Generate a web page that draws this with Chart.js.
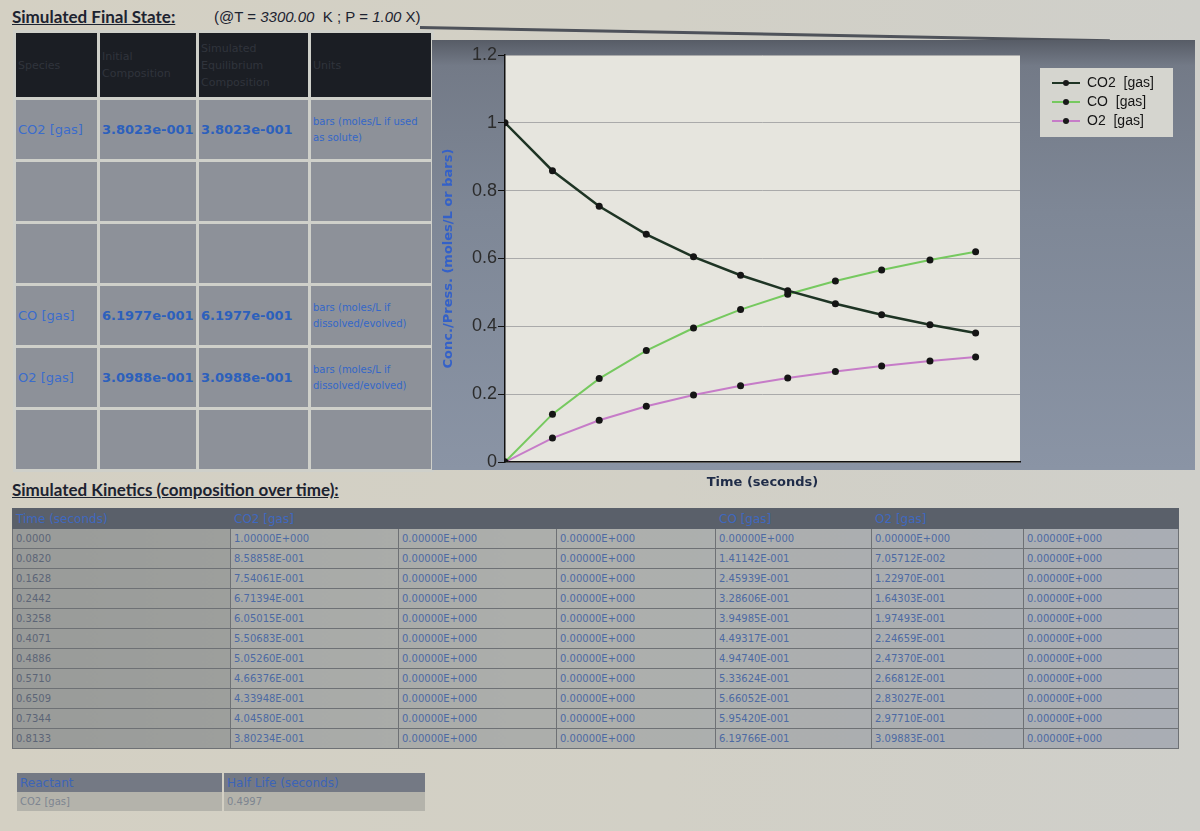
<!DOCTYPE html>
<html>
<head>
<meta charset="utf-8">
<title>Simulated Kinetics</title>
<script src="https://cdn.jsdelivr.net/npm/chart.js@4/dist/chart.umd.min.js"></script>
<style>
  html, body { margin: 0; padding: 0; }
  body {
    width: 1200px; height: 831px; overflow: hidden; position: relative;
    background: linear-gradient(90deg, #d4d0c3 0%, #d2d0c6 55%, #cfcfca 100%);
    font-family: "DejaVu Sans", sans-serif;
  }
  .heading {
    position: absolute; left: 12px; font-family: Lato, sans-serif; font-weight: bold;
    font-size: 17px; color: #1d2330; text-decoration: underline; white-space: nowrap;
  }
  .cond { font-family: "Liberation Sans", sans-serif; font-weight: normal; font-size: 15px; text-decoration: none; color: #1d2330; }
  .cond i { font-style: italic; }
  .rule { position: absolute; left: 420px; top: 26px; width: 690px; height: 3px; background: #4e525a; transform: rotate(1.1deg); transform-origin: left center; }

  /* tabel kondisi akhir */
  #finalTable { position: absolute; left: 13px; top: 30px; border-spacing: 3px; background: #cfd0ca; table-layout: fixed; }
  #finalTable td { background: #8d9199; vertical-align: middle; padding: 0 2px; color: #2f64c4; overflow: hidden; box-sizing: border-box; }
  #finalTable tr.head td { background: #1b1e24; color: #30343c; font-size: 11px; line-height: 17px; }
  #finalTable td.sp { font-size: 13px; color: #3b6ccc; }
  #finalTable td.val { font-size: 13px; font-weight: bold; color: #2c60bc; white-space: nowrap; }
  #finalTable td.unit { font-size: 10px; line-height: 16px; color: #3467c8; white-space: nowrap; }

  #chartBox { position: absolute; left: 432px; top: 40px; width: 763px; height: 430px;
    background: linear-gradient(180deg, #575c66 0%, #737a87 6%, #7e8796 40%, #8a94a5 100%); }
  #chartCanvas { position: absolute; left: 432px; top: 40px; }

  /* tabel kinetika */
  #kinTable { position: absolute; left: 12px; top: 508px; width: 1166px; border-collapse: collapse; table-layout: fixed;
    background: linear-gradient(90deg, #a3a5a3 0%, #adafac 50%, #a9adb4 100%); }
  #kinTable td { height: 19px; border: 1px solid #6e7175; padding: 0 3px; font-size: 10px; color: #4d6aa3; white-space: nowrap; }
  #kinTable tr.head td { background: #5a606a; color: #3f68bf; font-size: 12px; border-color: #5a606a; }
  #kinTable td.t { color: #5c6577; background: rgba(0,0,0,0.06); }

  #halfTable { position: absolute; left: 15px; top: 773px; border-collapse: separate; border-spacing: 2px 0; }
  #halfTable td { height: 19px; padding: 0 3px; font-size: 12px; white-space: nowrap; }
  #halfTable tr.head td { background: #747984; color: #3c64b8; }
  #halfTable tr.row td { background: #b4b3ab; color: #7d8590; font-size: 10px; }
</style>
</head>
<body>

<div class="heading" style="top:6px;">Simulated Final State:</div>
<div class="heading cond" style="left:214px; top:8px;">(@T = <i>3300.00</i>&nbsp; K ; P = <i>1.00</i> X)</div>
<div class="rule"></div>

<table id="finalTable">
  <colgroup><col style="width:81px"><col style="width:96px"><col style="width:109px"><col style="width:120px"></colgroup>
  <tr class="head" style="height:64px;">
    <td>Species</td>
    <td>Initial<br>Composition</td>
    <td>Simulated<br>Equilibrium<br>Composition</td>
    <td>Units</td>
  </tr>
  <tr style="height:59px;"><td class="sp">CO2 [gas]</td><td class="val">3.8023e-001</td><td class="val">3.8023e-001</td><td class="unit">bars (moles/L if used<br>as solute)</td></tr>
  <tr style="height:59px;"><td></td><td></td><td></td><td></td></tr>
  <tr style="height:59px;"><td></td><td></td><td></td><td></td></tr>
  <tr style="height:59px;"><td class="sp">CO [gas]</td><td class="val">6.1977e-001</td><td class="val">6.1977e-001</td><td class="unit">bars (moles/L if<br>dissolved/evolved)</td></tr>
  <tr style="height:59px;"><td class="sp">O2 [gas]</td><td class="val">3.0988e-001</td><td class="val">3.0988e-001</td><td class="unit">bars (moles/L if<br>dissolved/evolved)</td></tr>
  <tr style="height:59px;"><td></td><td></td><td></td><td></td></tr>
</table>

<div id="chartBox"></div>
<canvas id="chartCanvas" width="763" height="458"></canvas>

<div class="heading" style="top:479px;">Simulated Kinetics (composition over time):</div>
<table id="kinTable"></table>

<table id="halfTable">
  <tr class="head"><td style="width:199px;">Reactant</td><td style="width:195px;">Half Life (seconds)</td></tr>
  <tr class="row"><td>CO2 [gas]</td><td>0.4997</td></tr>
</table>

<script>
// Data kinetika (dibaca dari tabel)
const times = [0.0000, 0.0820, 0.1628, 0.2442, 0.3258, 0.4071, 0.4886, 0.5710, 0.6509, 0.7344, 0.8133];
const co2 = [1.00000, 0.858858, 0.754061, 0.671394, 0.605015, 0.550683, 0.505260, 0.466376, 0.433948, 0.404580, 0.380234];
const co = [0.00000, 0.141142, 0.245939, 0.328606, 0.394985, 0.449317, 0.494740, 0.533624, 0.566052, 0.595420, 0.619766];
const o2 = [0.00000, 0.0705712, 0.122970, 0.164303, 0.197493, 0.224659, 0.247370, 0.266812, 0.283027, 0.297710, 0.309883];
const seriesNames = ['CO2  [gas]', 'CO  [gas]', 'O2  [gas]'];
const seriesColors = ['#1e3424', '#76c95f', '#c67cc8'];
const yTicks = [0, 0.2, 0.4, 0.6, 0.8, 1, 1.2];

/**
 * Format angka seperti 8.58858E-001
 */
function sci(v) {
    const s = v.toExponential(5).toUpperCase();
    const [m, e] = s.split('E');
    const sign = e[0] === '-' ? '-' : '+';
    const digits = e.replace(/[+-]/, '').padStart(3, '0');
    return m + 'E' + sign + digits;
}

// Isi tabel kinetika
const tbl = document.getElementById('kinTable');
const widths = [218, 168, 158, 159, 156, 152, 155];
let html = '<colgroup>' + widths.map(w => '<col style="width:' + w + 'px">').join('') + '</colgroup>';
html += '<tr class="head"><td>Time (seconds)</td><td>CO2 [gas]</td><td></td><td></td><td>CO [gas]</td><td>O2 [gas]</td><td></td></tr>';
times.forEach((t, i) => {
    html += '<tr><td class="t">' + t.toFixed(4) + '</td><td>' + sci(co2[i]) + '</td><td>' + sci(0) + '</td><td>' + sci(0) +
        '</td><td>' + sci(co[i]) + '</td><td>' + sci(o2[i]) + '</td><td>' + sci(0) + '</td></tr>';
});
tbl.innerHTML = html;

// Marker legend: garis dengan titik di tengah
function legendMark(color) {
    const c = document.createElement('canvas');
    c.width = 28; c.height = 8;
    const g = c.getContext('2d');
    g.strokeStyle = color; g.lineWidth = 2;
    g.beginPath(); g.moveTo(0, 4); g.lineTo(28, 4); g.stroke();
    g.fillStyle = '#1a1a1a';
    g.beginPath(); g.arc(14, 4, 3, 0, Math.PI * 2); g.fill();
    return c;
}

const allSeries = [co2, co, o2];

const chartLayout = {
    id: 'chartLayout',
    beforeLayout(chart) {
        // lebar area legend tetap
        if (chart.legend && !chart.legend._patched) {
            const fit = chart.legend.fit.bind(chart.legend);
            chart.legend.fit = function() { fit(); this.width = 175; };
            chart.legend._patched = true;
        }
    },
    afterLayout(chart) {
        chart.legend.left = chart.chartArea.right + 27;
        chart.legend.right = chart.legend.left + 140;
        chart.legend.top = 31;
    },
    beforeDraw(chart) {
        const { ctx, chartArea: a, legend } = chart;
        ctx.save();
        ctx.fillStyle = '#e6e5de';
        ctx.fillRect(a.left, a.top, a.right - a.left, a.bottom - a.top);
        ctx.fillStyle = '#d5d5cf';
        ctx.fillRect(legend.left - 7, legend.top - 3, 133, 69);
        ctx.restore();
    }
};

new Chart(document.getElementById('chartCanvas').getContext('2d'), {
    type: 'line',
    data: {
        datasets: allSeries.map((vals, k) => ({
            label: seriesNames[k],
            data: times.map((t, i) => ({ x: t, y: vals[i] })),
            borderColor: seriesColors[k],
            borderWidth: k === 0 ? 2.5 : 2,
            pointRadius: 3.5,
            pointBackgroundColor: '#151515',
            pointBorderWidth: 0,
            tension: 0,
            fill: false
        }))
    },
    options: {
        responsive: false,
        animation: false,
        layout: { padding: { left: 5, top: 15, bottom: 8, right: 0 } },
        plugins: {
            tooltip: { enabled: false },
            legend: {
                position: 'right',
                align: 'start',
                labels: {
                    usePointStyle: true,
                    pointStyleWidth: 28,
                    padding: 5,
                    color: '#151515',
                    font: { family: 'Liberation Sans', size: 14 },
                    generateLabels: function(chart) {
                        const items = Chart.defaults.plugins.legend.labels.generateLabels(chart);
                        return items.map((it, k) => Object.assign(it, { pointStyle: legendMark(seriesColors[k]) }));
                    }
                }
            }
        },
        scales: {
            x: {
                type: 'linear',
                min: 0,
                max: 0.89,
                ticks: { display: false },
                grid: { display: false, drawTicks: false },
                border: { color: '#111', width: 1.5 },
                title: {
                    display: true,
                    text: 'Time (seconds)',
                    color: '#1f2c48',
                    font: { family: 'DejaVu Sans', size: 13, weight: 'bold' },
                    padding: { top: 4, bottom: 0 }
                },
                afterFit: function(s) { s.height = 28; }
            },
            y: {
                min: 0,
                max: 1.2,
                afterBuildTicks: function(s) { s.ticks = yTicks.map(v => ({ value: v })); },
                ticks: {
                    padding: 1,
                    color: '#2c2c2c',
                    font: { family: 'Liberation Sans', size: 18 },
                    callback: function(value) { return String(+value.toFixed(1)); }
                },
                grid: { color: '#aaaaaa', tickColor: '#111', tickLength: 7 },
                border: { color: '#111', width: 1.5 },
                title: {
                    display: true,
                    text: 'Conc./Press. (moles/L or bars)',
                    color: '#3461c8',
                    font: { family: 'DejaVu Sans', size: 13, weight: 'bold' }
                },
                afterFit: function(s) { s.width = 68; }
            }
        }
    },
    plugins: [chartLayout]
});
</script>
</body>
</html>
